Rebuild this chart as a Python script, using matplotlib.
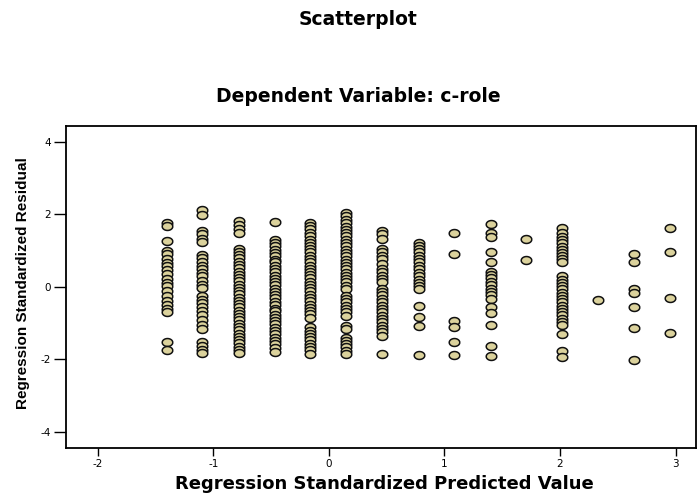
import numpy as np
import matplotlib
matplotlib.use("Agg")
import matplotlib.pyplot as plt

plt.rcParams['axes.unicode_minus'] = False

# predicted values (one column of points each) and the residuals read per column
pred_levels = [-1.40, -1.10, -0.78, -0.47, -0.16, 0.15, 0.46, 0.78,
               1.08, 1.40, 1.71, 2.02, 2.33, 2.64, 2.95]

resid_1 = [1.76, 1.68, 1.25, 0.99, 0.90, 0.76, 0.65, 0.56, 0.47, 0.35, 0.21,
           0.10, 0.01, -0.11, -0.25, -0.39, -0.50, -0.62, -0.69, -1.53, -1.74]
resid_2 = [2.12, 1.98, 1.55, 1.45, 1.33, 1.24, 0.87, 0.78, 0.67, 0.58, 0.49,
           0.38, 0.29, 0.17, 0.05, -0.04, -0.26, -0.36, -0.45, -0.57, -0.66,
           -0.78, -0.91, -1.06, -1.17, -1.53, -1.63, -1.74, -1.83]
resid_3 = [1.82, 1.70, 1.59, 1.48, 1.04, 0.95, 0.87, 0.78, 0.69, 0.60, 0.51,
           0.42, 0.33, 0.24, 0.15, 0.06, -0.03, -0.12, -0.21, -0.30, -0.39,
           -0.48, -0.57, -0.66, -0.75, -0.84, -0.93, -1.02, -1.11, -1.20,
           -1.29, -1.38, -1.47, -1.56, -1.65, -1.74, -1.83]
resid_4 = [1.78, 1.30, 1.21, 1.12, 1.02, 0.94, 0.85, 0.75, 0.67, 0.58, 0.48,
           0.40, 0.31, 0.22, 0.12, 0.04, -0.05, -0.14, -0.24, -0.32, -0.41,
           -0.50, -0.60, -0.68, -0.77, -0.87, -0.95, -1.04, -1.14, -1.22,
           -1.31, -1.41, -1.50, -1.59, -1.68, -1.79]
resid_5 = [1.76, 1.67, 1.58, 1.48, 1.40, 1.30, 1.22, 1.12, 1.03, 0.95, 0.85,
           0.77, 0.68, 0.58, 0.50, 0.41, 0.32, 0.23, 0.14, 0.05, -0.04, -0.13,
           -0.22, -0.31, -0.40, -0.49, -0.58, -0.67, -0.76, -0.85, -1.12,
           -1.21, -1.30, -1.39, -1.48, -1.57, -1.66, -1.75, -1.86]
resid_6 = [2.03, 1.94, 1.85, 1.76, 1.66, 1.57, 1.48, 1.39, 1.30, 1.21, 1.12,
           1.02, 0.93, 0.84, 0.75, 0.66, 0.57, 0.48, 0.39, 0.30, 0.21, 0.12,
           0.03, -0.06, -0.25, -0.34, -0.43, -0.52, -0.61, -0.70, -0.80,
           -1.07, -1.16, -1.40, -1.49, -1.58, -1.67, -1.76, -1.86]
resid_7 = [1.55, 1.45, 1.33, 1.04, 0.95, 0.86, 0.76, 0.63, 0.49, 0.40, 0.31,
           0.21, 0.12, -0.06, -0.15, -0.24, -0.33, -0.42, -0.52, -0.61, -0.70,
           -0.80, -0.89, -0.98, -1.08, -1.17, -1.26, -1.35, -1.86]
resid_8 = [1.22, 1.13, 1.04, 0.95, 0.86, 0.76, 0.67, 0.58, 0.48, 0.39, 0.30,
           0.20, 0.11, 0.03, -0.06, -0.52, -0.82, -1.09, -1.88]
resid_9 = [1.48, 0.90, -0.94, -1.12, -1.52, -1.88]
resid_10 = [1.73, 1.48, 1.36, 0.97, 0.69, 0.41, 0.32, 0.23, 0.14, 0.05, -0.05,
            -0.14, -0.24, -0.34, -0.57, -0.71, -1.06, -1.63, -1.90]
resid_11 = [1.32, 0.75]
resid_12 = [1.61, 1.47, 1.38, 1.29, 1.20, 1.11, 1.02, 0.93, 0.84, 0.76, 0.67,
            0.29, 0.20, 0.11, 0.02, -0.07, -0.16, -0.25, -0.34, -0.43, -0.52,
            -0.61, -0.70, -0.79, -0.88, -0.97, -1.06, -1.30, -1.77, -1.95]
resid_13 = [-0.36]
resid_14 = [0.90, 0.69, -0.06, -0.17, -0.57, -1.15, -2.01]
resid_15 = [1.61, 0.95, -0.32, -1.28]

residuals = [resid_1, resid_2, resid_3, resid_4, resid_5, resid_6, resid_7,
             resid_8, resid_9, resid_10, resid_11, resid_12, resid_13,
             resid_14, resid_15]

x = []
y = []
for lvl, col in zip(pred_levels, residuals):
    x += [lvl] * len(col)
    y += col

fig = plt.figure(figsize=(6.97, 4.97), dpi=100)
ax = fig.add_axes([0.094, 0.099, 0.905, 0.648])

# the original chart is stretched sideways, so the dots are ellipses
t = np.linspace(0, 2 * np.pi, 41)
ellipse = list(zip(np.cos(t), 0.75 * np.sin(t)))
ax.plot(x, y, linestyle='none', marker=ellipse, markersize=7.6,
        markerfacecolor='#dbd29c', markeredgecolor='#111111',
        markeredgewidth=1.1)

ax.set_xlim(-2.28, 3.18)
ax.set_ylim(-4.44, 4.44)
ax.set_xticks([-2, -1, 0, 1, 2, 3])
ax.set_yticks([-4, -2, 0, 2, 4])
ax.tick_params(axis='x', length=5.8, width=1, pad=2, labelsize=7.5)
ax.tick_params(axis='y', length=8.6, width=1, pad=2, labelsize=7.5)
for s in ax.spines.values():
    s.set_linewidth(1.3)

fig.text(0.514, 0.960, 'Scatterplot', ha='center', va='center',
         fontsize=13.5, fontweight='bold', family='DejaVu Sans')
fig.text(0.514, 0.805, 'Dependent Variable: c-role', ha='center', va='center',
         fontsize=13.5, fontweight='bold', family='DejaVu Sans')
fig.text(0.551, 0.026, 'Regression Standardized Predicted Value',
         ha='center', va='center', fontsize=13, fontweight='bold',
         family='DejaVu Sans')
fig.text(0.033, 0.43, 'Regression Standardized Residual', rotation=90,
         ha='center', va='center', fontsize=11, fontweight='bold',
         family='Liberation Sans')

fig.savefig('out.png', dpi=100)
